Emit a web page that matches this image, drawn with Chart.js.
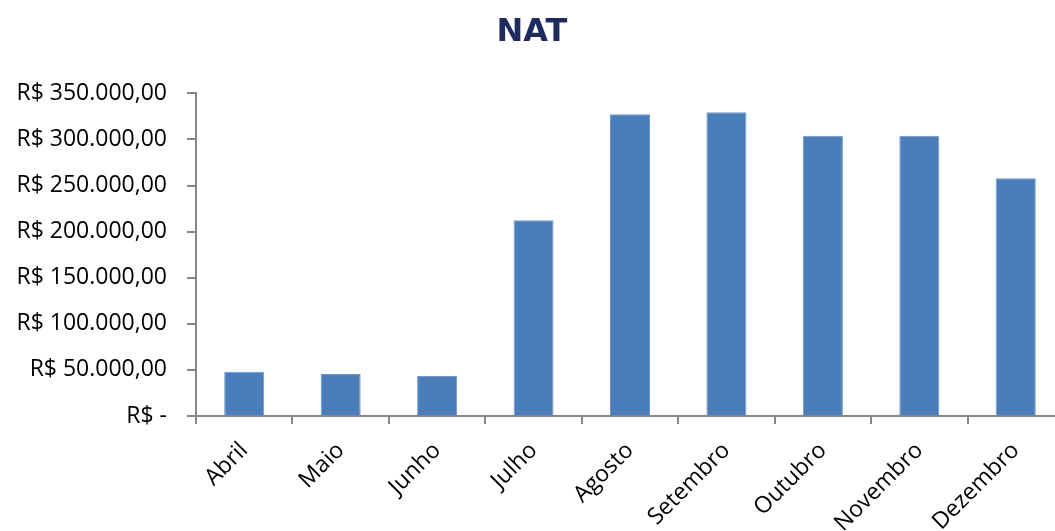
<!DOCTYPE html>
<html>
<head>
<meta charset="utf-8">
<script src="https://cdn.jsdelivr.net/npm/chart.js@4"></script>
<style>
  html, body { margin: 0; padding: 0; background: #fff; overflow: hidden; }
  #wrap { width: 1064px; height: 531px; }
</style>
</head>
<body>
<div id="wrap"><canvas id="chart" width="1064" height="531"></canvas></div>
<script>
const months = ["Abril", "Maio", "Junho", "Julho", "Agosto", "Setembro", "Outubro", "Novembro", "Dezembro"];
const natValues = [48000, 45500, 43500, 212500, 327500, 329500, 304000, 304000, 258000];
const yTicks = [0, 50000, 100000, 150000, 200000, 250000, 300000, 350000];

const labelFont = { family: "Open Sans", size: 23 };

// R$ 350.000,00 style, zero shown as "R$ -"
const formatReal = (v) => {
  if (v === 0) return "R$ -";
  const int = Math.round(v).toString().replace(/\B(?=(\d{3})+(?!\d))/g, ".");
  return "R$ " + int + ",00";
};

const ctx = document.getElementById("chart").getContext("2d");
new Chart(ctx, {
  type: "bar",
  data: {
    labels: months,
    datasets: [
      {
        label: "NAT",
        data: natValues,
        backgroundColor: "#4a7ebb",
        borderColor: "#7097c8",
        borderWidth: 1,
        barPercentage: 0.415,
        categoryPercentage: 1,
      },
    ],
  },
  options: {
    responsive: false,
    animation: false,
    layout: { padding: { top: 13, right: 0, bottom: 0, left: 0 } },
    plugins: {
      legend: { display: false },
      tooltip: { enabled: false },
      title: {
        display: true,
        text: "NAT",
        color: "#1f2b5e",
        font: { family: "DejaVu Sans", size: 32, weight: "bold" },
        padding: { top: 0, bottom: 42 },
      },
    },
    scales: {
      x: {
        grid: { display: true, drawOnChartArea: false, color: "#868686", lineWidth: 2, tickLength: 8, offset: true },
        border: { color: "#868686", width: 2 },
        ticks: {
          color: "#000",
          font: labelFont,
          minRotation: 45,
          maxRotation: 45,
          padding: 13,
        },
        afterFit: (scale) => { scale.height = 115; },
      },
      y: {
        min: 0,
        max: 350000,
        afterBuildTicks: (scale) => { scale.ticks = yTicks.map((v) => ({ value: v })); },
        grid: { display: true, drawOnChartArea: false, color: "#868686", lineWidth: 2, tickLength: 9 },
        border: { color: "#868686", width: 2 },
        ticks: {
          color: "#000",
          font: labelFont,
          padding: 20,
          callback: (v) => formatReal(v),
        },
        afterFit: (scale) => { scale.width = 196; },
      },
    },
  },
});
</script>
</body>
</html>
